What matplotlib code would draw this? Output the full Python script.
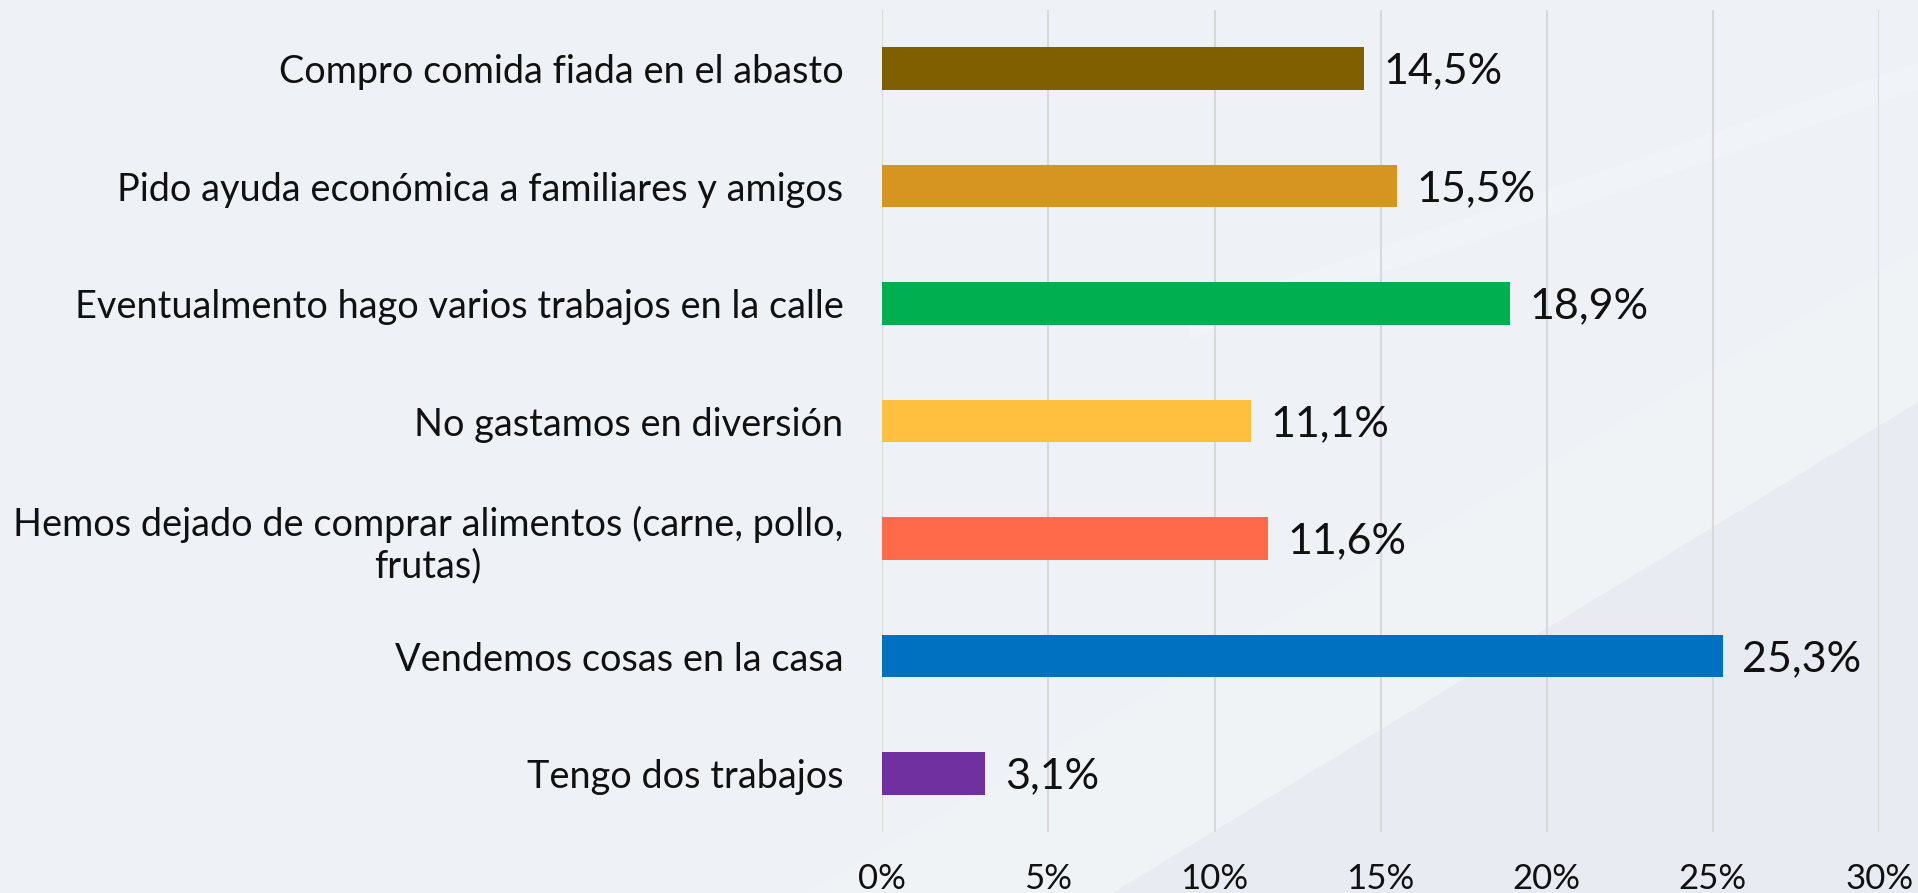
import matplotlib
matplotlib.use("Agg")
import matplotlib.pyplot as plt
from matplotlib.patches import Polygon

categories = [
    "Compro comida fiada en el abasto",
    "Pido ayuda económica a familiares y amigos",
    "Eventualmento hago varios trabajos en la calle",
    "No gastamos en diversión",
    "Hemos dejado de comprar alimentos (carne, pollo,\nfrutas)",
    "Vendemos cosas en la casa",
    "Tengo dos trabajos",
]
values = [14.5, 15.5, 18.9, 11.1, 11.6, 25.3, 3.1]
value_labels = ["14,5%", "15,5%", "18,9%", "11,1%", "11,6%", "25,3%", "3,1%"]
colors = ["#7f5f00", "#d69520", "#00b050", "#ffc03f", "#ff6a4b", "#0070c0", "#7030a0"]
xticks = [0, 5, 10, 15, 20, 25, 30]
xtick_labels = ["0%", "5%", "10%", "15%", "20%", "25%", "30%"]

FONT = "Lato"
TXT = "#111111"

fig = plt.figure(figsize=(19.18, 8.93), dpi=100, facecolor="#eef2f6")

# background axes with subtle diagonal streaks
bg = fig.add_axes([0, 0, 1, 1], zorder=-5)
bg.set_xlim(0, 1)
bg.set_ylim(0, 1)
bg.axis("off")
streaks = [
    ([(0.58, 0.0), (1.0, 0.0), (1.0, 0.55)], "#e6e9f1", 0.7),
    ([(0.42, 0.0), (0.58, 0.0), (1.0, 0.55), (1.0, 0.72)], "#f2f4f7", 0.6),
    ([(0.62, 0.62), (1.0, 0.90), (1.0, 0.93), (0.62, 0.65)], "#f3f5f8", 0.5),
]
for pts, c, a in streaks:
    bg.add_patch(Polygon(pts, closed=True, facecolor=c, edgecolor="none", alpha=a))

ax = fig.add_axes([0.46, 0.068, 0.5197, 0.921], zorder=1)
ax.set_facecolor("none")
ypos = list(range(len(categories)))
ax.barh(ypos, values, height=0.36, color=colors, zorder=3)
ax.set_ylim(len(categories) - 0.5, -0.5)
ax.set_xlim(0, 30)
ax.set_xticks(xticks)
ax.set_xticklabels(xtick_labels, fontsize=25, family=FONT, color=TXT)
ax.set_yticks(ypos)
ax.set_yticklabels(categories, fontsize=27.3, family=FONT, color=TXT,
                   multialignment="center")
ax.tick_params(axis="x", length=0, pad=22)
ax.tick_params(axis="y", length=0, pad=28)
ax.grid(axis="x", color="#d9d9d9", linewidth=1.5, zorder=0)
ax.grid(axis="y", visible=False)
for s in ax.spines.values():
    s.set_visible(False)

for yv, v, lab in zip(ypos, values, value_labels):
    ax.annotate(lab, xy=(v, yv), xytext=(14, -2), textcoords="offset points",
                ha="left", va="center", fontsize=31, family=FONT, color=TXT)

fig.savefig("out.png", dpi=100, facecolor=fig.get_facecolor())
